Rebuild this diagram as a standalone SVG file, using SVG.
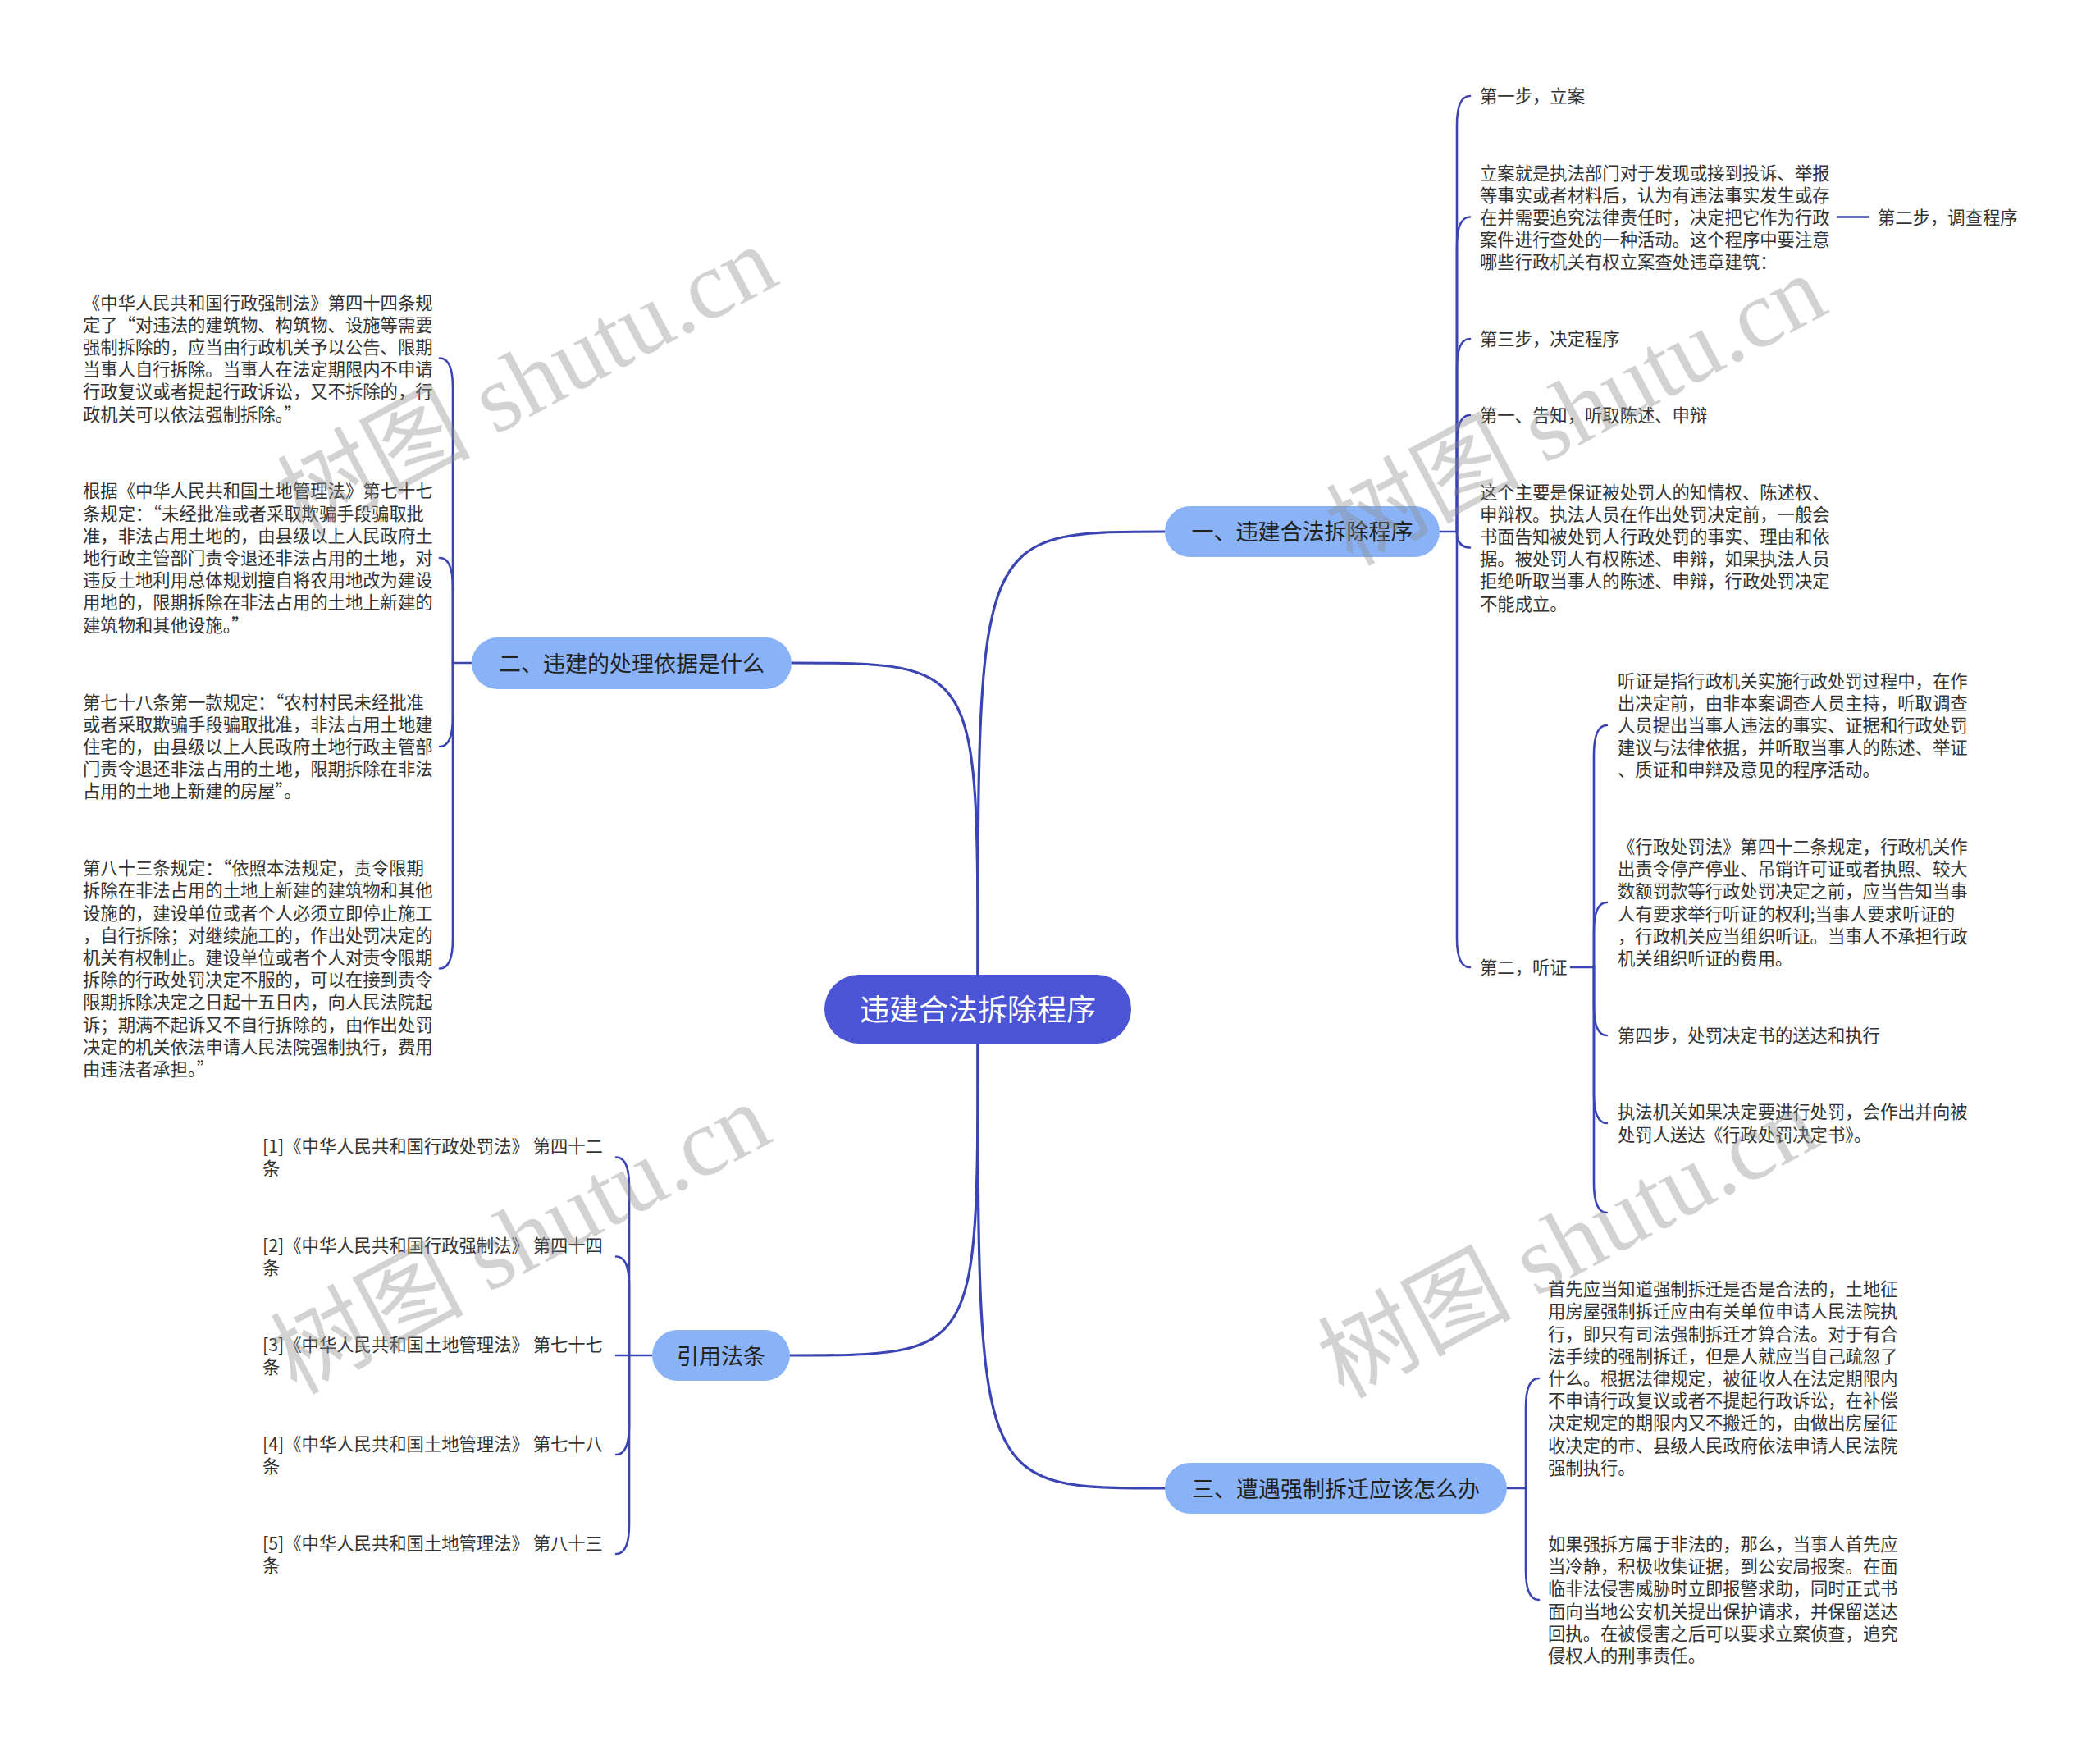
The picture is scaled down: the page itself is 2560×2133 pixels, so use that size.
<svg xmlns="http://www.w3.org/2000/svg" width="2560" height="2133" viewBox="0 0 2560 2133">
<defs>
<style>
.t{font-family:"Noto Sans CJK SC","Liberation Sans",sans-serif;font-size:21.33px;fill:#333333}
.b{font-family:"Noto Sans CJK SC","Liberation Sans",sans-serif;font-size:27px;fill:#222222}
.c{font-family:"Noto Sans CJK SC","Liberation Sans",sans-serif;font-size:36px;fill:#ffffff}
.ln{fill:none;stroke:#3b44b3;stroke-width:2.6;stroke-linecap:round}
.main{fill:none;stroke:#3b44b3;stroke-width:3.2;stroke-linecap:round}
.bn{fill:#8ab3f7}
.wm{font-family:"Liberation Serif","Noto Sans CJK SC",serif;font-size:118px;fill:#8c8c8c;opacity:0.38}
</style>
</defs>
<rect width="2560" height="2133" fill="#ffffff"/>

<g id="connectors">
<path class="main" d="M1192 1189 C1192 648 1192 648 1420 648"/>
<path class="main" d="M1192 1189 C1192 808 1192 808 965 808"/>
<path class="main" d="M1192 1270 C1192 1652 1192 1652 963 1652"/>
<path class="main" d="M1192 1270 C1192 1814 1192 1814 1420 1814"/>

<path class="ln" d="M1755 648 H1776"/>
<path class="ln" d="M1776 648 V153 Q1776 117 1792 117"/>
<path class="ln" d="M1776 648 V300.5 Q1776 264.5 1792 264.5"/>
<path class="ln" d="M1776 648 V449 Q1776 413 1792 413"/>
<path class="ln" d="M1776 648 V542 Q1776 506 1792 506"/>
<path class="ln" d="M1776 648 Q1776 667.5 1792 667.5"/>
<path class="ln" d="M1776 648 V1143 Q1776 1179 1792 1179"/>
<path class="ln" d="M2240 264.5 H2278"/>

<path class="ln" d="M1915 1179 H1943"/>
<path class="ln" d="M1943 1179 V920 Q1943 884 1959 884"/>
<path class="ln" d="M1943 1179 V1136 Q1943 1100 1959 1100"/>
<path class="ln" d="M1943 1179 V1226 Q1943 1262 1959 1262"/>
<path class="ln" d="M1943 1179 V1333 Q1943 1369 1959 1369"/>
<path class="ln" d="M1943 1179 V1442 Q1943 1478 1959 1478"/>

<path class="ln" d="M575 808 H552"/>
<path class="ln" d="M552 808 V472.5 Q552 436.5 536 436.5"/>
<path class="ln" d="M552 808 V716 Q552 680 536 680"/>
<path class="ln" d="M552 808 V874 Q552 910 536 910"/>
<path class="ln" d="M552 808 V1144.5 Q552 1180.5 536 1180.5"/>

<path class="ln" d="M795 1652 H767"/>
<path class="ln" d="M767 1652 V1446.5 Q767 1410.5 751 1410.5"/>
<path class="ln" d="M767 1652 V1567.5 Q767 1531.5 751 1531.5"/>
<path class="ln" d="M767 1652 H751"/>
<path class="ln" d="M767 1652 V1737 Q767 1773 751 1773"/>
<path class="ln" d="M767 1652 V1858 Q767 1894 751 1894"/>

<path class="ln" d="M1837 1814 H1860"/>
<path class="ln" d="M1860 1814 V1716 Q1860 1680 1876 1680"/>
<path class="ln" d="M1860 1814 V1914 Q1860 1950 1876 1950"/>
</g>

<g id="node-center">
<rect x="1005" y="1188" width="374" height="84" rx="42" fill="#4a54d5"/>
<text class="c" x="1192" y="1243.5" text-anchor="middle">违建合法拆除程序</text>
</g>

<g id="node-1">
<rect class="bn" x="1420" y="617" width="335" height="62" rx="31"/>
<text class="b" x="1587.5" y="658" text-anchor="middle">一、违建合法拆除程序</text>
</g>
<g id="node-2">
<rect class="bn" x="575" y="777" width="390" height="63" rx="31.5"/>
<text class="b" x="770" y="818.5" text-anchor="middle">二、违建的处理依据是什么</text>
</g>
<g id="node-3">
<rect class="bn" x="1420" y="1783" width="417" height="62" rx="31"/>
<text class="b" x="1628.5" y="1824.5" text-anchor="middle">三、遭遇强制拆迁应该怎么办</text>
</g>
<g id="node-ref">
<rect class="bn" x="795" y="1621" width="168" height="62" rx="31"/>
<text class="b" x="879" y="1662.5" text-anchor="middle">引用法条</text>
</g>

<g id="node-1-1"><text class="t" x="1804" y="125">第一步，立案</text></g>
<g id="node-1-2"><text class="t" x="1804" y="218.5">立案就是执法部门对于发现或接到投诉、举报<tspan x="1804" dy="27.2">等事实或者材料后，认为有违法事实发生或存</tspan><tspan x="1804" dy="27.2">在并需要追究法律责任时，决定把它作为行政</tspan><tspan x="1804" dy="27.2">案件进行查处的一种活动。这个程序中要注意</tspan><tspan x="1804" dy="27.2">哪些行政机关有权立案查处违章建筑：</tspan></text></g>
<g id="node-1-2-1"><text class="t" x="2289" y="272.5">第二步，调查程序</text></g>
<g id="node-1-3"><text class="t" x="1804" y="421">第三步，决定程序</text></g>
<g id="node-1-4"><text class="t" x="1804" y="514">第一、告知，听取陈述、申辩</text></g>
<g id="node-1-5"><text class="t" x="1804" y="607.5">这个主要是保证被处罚人的知情权、陈述权、<tspan x="1804" dy="27.2">申辩权。执法人员在作出处罚决定前，一般会</tspan><tspan x="1804" dy="27.2">书面告知被处罚人行政处罚的事实、理由和依</tspan><tspan x="1804" dy="27.2">据。被处罚人有权陈述、申辩，如果执法人员</tspan><tspan x="1804" dy="27.2">拒绝听取当事人的陈述、申辩，行政处罚决定</tspan><tspan x="1804" dy="27.2">不能成立。</tspan></text></g>
<g id="node-1-6"><text class="t" x="1804" y="1187">第二，听证</text></g>

<g id="node-1-6-1"><text class="t" x="1972" y="837.6">听证是指行政机关实施行政处罚过程中，在作<tspan x="1972" dy="27.2">出决定前，由非本案调查人员主持，听取调查</tspan><tspan x="1972" dy="27.2">人员提出当事人违法的事实、证据和行政处罚</tspan><tspan x="1972" dy="27.2">建议与法律依据，并听取当事人的陈述、举证</tspan><tspan x="1972" dy="27.2">、质证和申辩及意见的程序活动。</tspan></text></g>
<g id="node-1-6-2"><text class="t" x="1972" y="1040">《行政处罚法》第四十二条规定，行政机关作<tspan x="1972" dy="27.2">出责令停产停业、吊销许可证或者执照、较大</tspan><tspan x="1972" dy="27.2">数额罚款等行政处罚决定之前，应当告知当事</tspan><tspan x="1972" dy="27.2">人有要求举行听证的权利;当事人要求听证的</tspan><tspan x="1972" dy="27.2">，行政机关应当组织听证。当事人不承担行政</tspan><tspan x="1972" dy="27.2">机关组织听证的费用。</tspan></text></g>
<g id="node-1-6-3"><text class="t" x="1972" y="1270">第四步，处罚决定书的送达和执行</text></g>
<g id="node-1-6-4"><text class="t" x="1972" y="1363.4">执法机关如果决定要进行处罚，会作出并向被<tspan x="1972" dy="27.2">处罚人送达《行政处罚决定书》。</tspan></text></g>

<g id="node-2-1"><text class="t" x="101" y="376.5">《中华人民共和国行政强制法》第四十四条规<tspan x="101" dy="27.2">定了“对违法的建筑物、构筑物、设施等需要</tspan><tspan x="101" dy="27.2">强制拆除的，应当由行政机关予以公告、限期</tspan><tspan x="101" dy="27.2">当事人自行拆除。当事人在法定期限内不申请</tspan><tspan x="101" dy="27.2">行政复议或者提起行政诉讼，又不拆除的，行</tspan><tspan x="101" dy="27.2">政机关可以依法强制拆除。”</tspan></text></g>
<g id="node-2-2"><text class="t" x="101" y="606.4">根据《中华人民共和国土地管理法》第七十七<tspan x="101" dy="27.2">条规定：“未经批准或者采取欺骗手段骗取批</tspan><tspan x="101" dy="27.2">准，非法占用土地的，由县级以上人民政府土</tspan><tspan x="101" dy="27.2">地行政主管部门责令退还非法占用的土地，对</tspan><tspan x="101" dy="27.2">违反土地利用总体规划擅自将农用地改为建设</tspan><tspan x="101" dy="27.2">用地的，限期拆除在非法占用的土地上新建的</tspan><tspan x="101" dy="27.2">建筑物和其他设施。”</tspan></text></g>
<g id="node-2-3"><text class="t" x="101" y="863.6">第七十八条第一款规定：“农村村民未经批准<tspan x="101" dy="27.2">或者采取欺骗手段骗取批准，非法占用土地建</tspan><tspan x="101" dy="27.2">住宅的，由县级以上人民政府土地行政主管部</tspan><tspan x="101" dy="27.2">门责令退还非法占用的土地，限期拆除在非法</tspan><tspan x="101" dy="27.2">占用的土地上新建的房屋”。</tspan></text></g>
<g id="node-2-4"><text class="t" x="101" y="1066.1">第八十三条规定：“依照本法规定，责令限期<tspan x="101" dy="27.2">拆除在非法占用的土地上新建的建筑物和其他</tspan><tspan x="101" dy="27.2">设施的，建设单位或者个人必须立即停止施工</tspan><tspan x="101" dy="27.2">，自行拆除；对继续施工的，作出处罚决定的</tspan><tspan x="101" dy="27.2">机关有权制止。建设单位或者个人对责令限期</tspan><tspan x="101" dy="27.2">拆除的行政处罚决定不服的，可以在接到责令</tspan><tspan x="101" dy="27.2">限期拆除决定之日起十五日内，向人民法院起</tspan><tspan x="101" dy="27.2">诉；期满不起诉又不自行拆除的，由作出处罚</tspan><tspan x="101" dy="27.2">决定的机关依法申请人民法院强制执行，费用</tspan><tspan x="101" dy="27.2">由违法者承担。”</tspan></text></g>

<g id="node-ref-1"><text class="t" x="320" y="1405">[1]《中华人民共和国行政处罚法》 第四十二<tspan x="320" dy="27.2">条</tspan></text></g>
<g id="node-ref-2"><text class="t" x="320" y="1526">[2]《中华人民共和国行政强制法》 第四十四<tspan x="320" dy="27.2">条</tspan></text></g>
<g id="node-ref-3"><text class="t" x="320" y="1646.5">[3]《中华人民共和国土地管理法》 第七十七<tspan x="320" dy="27.2">条</tspan></text></g>
<g id="node-ref-4"><text class="t" x="320" y="1767.5">[4]《中华人民共和国土地管理法》 第七十八<tspan x="320" dy="27.2">条</tspan></text></g>
<g id="node-ref-5"><text class="t" x="320" y="1888.5">[5]《中华人民共和国土地管理法》 第八十三<tspan x="320" dy="27.2">条</tspan></text></g>

<g id="node-3-1"><text class="t" x="1887" y="1579.2">首先应当知道强制拆迁是否是合法的，土地征<tspan x="1887" dy="27.2">用房屋强制拆迁应由有关单位申请人民法院执</tspan><tspan x="1887" dy="27.2">行，即只有司法强制拆迁才算合法。对于有合</tspan><tspan x="1887" dy="27.2">法手续的强制拆迁，但是人就应当自己疏忽了</tspan><tspan x="1887" dy="27.2">什么。根据法律规定，被征收人在法定期限内</tspan><tspan x="1887" dy="27.2">不申请行政复议或者不提起行政诉讼，在补偿</tspan><tspan x="1887" dy="27.2">决定规定的期限内又不搬迁的，由做出房屋征</tspan><tspan x="1887" dy="27.2">收决定的市、县级人民政府依法申请人民法院</tspan><tspan x="1887" dy="27.2">强制执行。</tspan></text></g>
<g id="node-3-2"><text class="t" x="1887" y="1890">如果强拆方属于非法的，那么，当事人首先应<tspan x="1887" dy="27.2">当冷静，积极收集证据，到公安局报案。在面</tspan><tspan x="1887" dy="27.2">临非法侵害威胁时立即报警求助，同时正式书</tspan><tspan x="1887" dy="27.2">面向当地公安机关提出保护请求，并保留送达</tspan><tspan x="1887" dy="27.2">回执。在被侵害之后可以要求立案侦查，追究</tspan><tspan x="1887" dy="27.2">侵权人的刑事责任。</tspan></text></g>

<g id="watermarks">
<text class="wm" x="0" y="0" text-anchor="middle" transform="translate(661 500) rotate(-28)">树图 shutu.cn</text>
<text class="wm" x="0" y="0" text-anchor="middle" transform="translate(653 1545) rotate(-28)">树图 shutu.cn</text>
<text class="wm" x="0" y="0" text-anchor="middle" transform="translate(1940 535) rotate(-28)">树图 shutu.cn</text>
<text class="wm" x="0" y="0" text-anchor="middle" transform="translate(1930 1550) rotate(-28)">树图 shutu.cn</text>
</g>
</svg>
